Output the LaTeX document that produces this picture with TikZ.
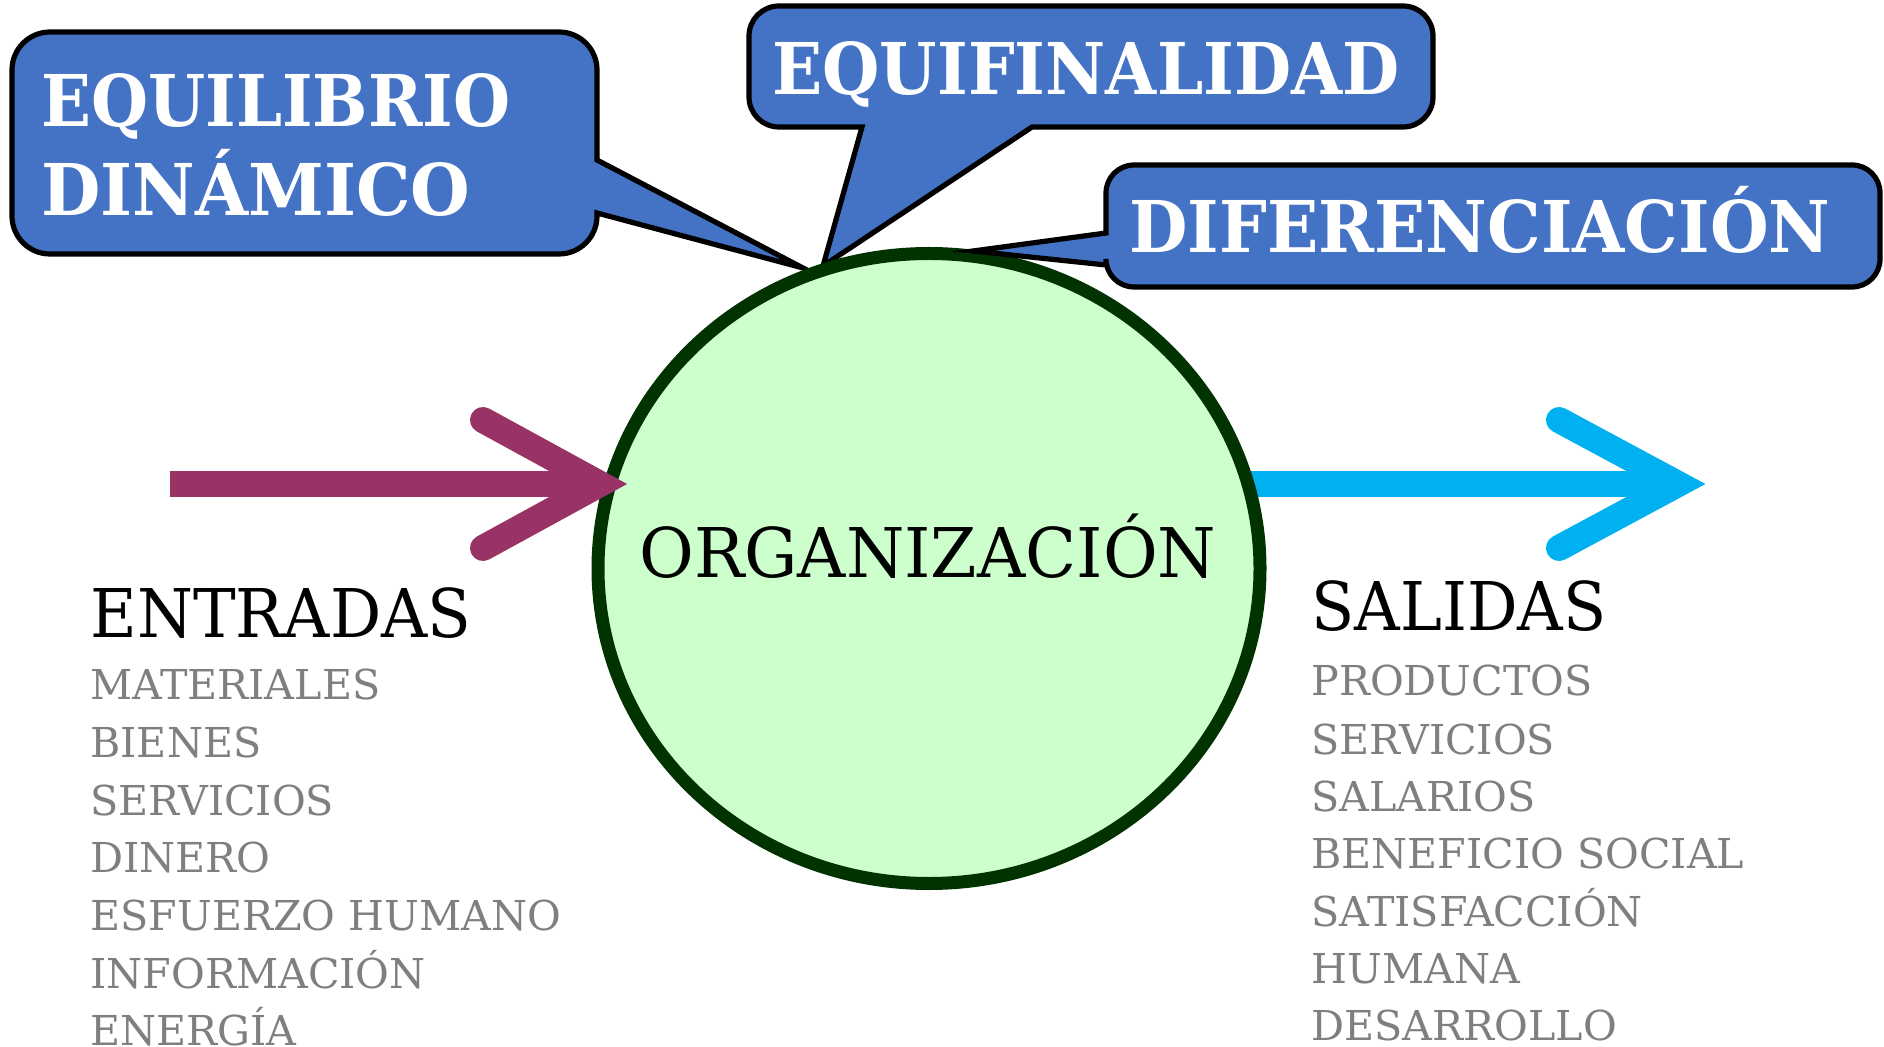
\documentclass[tikz,border=0pt]{standalone}
\usepackage{fontspec}
\setmainfont{DejaVu Serif}
\usetikzlibrary{shapes.geometric}
\definecolor{callblue}{HTML}{4472C4}
\definecolor{orgfill}{HTML}{CCFFCC}
\definecolor{orgline}{HTML}{003300}
\definecolor{inmag}{HTML}{993366}
\definecolor{outcyan}{HTML}{00B0F0}
\definecolor{itemgray}{HTML}{7F7F7F}
\newlength\fitlen
\newcommand\fitw[2]{\settowidth{\fitlen}{#2}\pgfmathsetmacro\fitf{#1/\fitlen}\scalebox{\fitf}[1]{#2}}
\tikzset{
  callout/.style={draw=black, fill=callblue, line width=2.6pt, line join=miter},
  calltext/.style={text=white, inner sep=0pt, font=\fontsize{35.7}{44.5}\selectfont\bfseries},
  shaft/.style={line width=13pt, line cap=butt},
  chevron/.style={line width=13pt, line cap=round, line join=miter},
  headtext/.style={anchor=base west, inner sep=0pt, text=black, font=\fontsize{33.6}{40}\selectfont},
  itemtext/.style={anchor=base west, inner sep=0pt, text=itemgray, font=\fontsize{20.6}{24}\selectfont},
}
\begin{document}
\begin{tikzpicture}[x=0.5pt,y=-0.5pt]
\useasboundingbox (0,0) rectangle (1884,1047);
\fill[white] (0,0) rectangle (1884,1047);

% callout 1
\draw[callout] (50,32) -- (559,32) arc[start angle=270,end angle=360,radius=38]
  -- (597,160) -- (803,268) -- (597,213)
  -- (597,216) arc[start angle=0,end angle=90,radius=38]
  -- (50,254) arc[start angle=90,end angle=180,radius=38]
  -- (12,70) arc[start angle=180,end angle=270,radius=38] -- cycle;
\node[calltext, anchor=north west, align=left] (eq) at (41,73) {\fitw{234.5}{EQUILIBRIO}\\\fitw{214.5}{DINÁMICO}};

% callout 2
\draw[callout] (779,6) -- (1403,6) arc[start angle=270,end angle=360,radius=30]
  -- (1433,97) arc[start angle=0,end angle=90,radius=30]
  -- (1032,127) -- (823,266) -- (862,127)
  -- (779,127) arc[start angle=90,end angle=180,radius=30]
  -- (749,36) arc[start angle=180,end angle=270,radius=30] -- cycle;
\node[calltext, anchor=base west] (ef) at (772,95) {\fitw{313.5}{EQUIFINALIDAD}};

% output arrow (behind circle)
\coordinate (outS) at (1230,484);
\coordinate (outT) at (1678,484);
\coordinate (outA) at (1559,420);
\coordinate (outB) at (1559,548);
\draw[outcyan, shaft] (outS) -- (1660,484);
\draw[outcyan, chevron] (outA) -- (outT) -- (outB);

% circle
\node[ellipse, draw=orgline, fill=orgfill, line width=6.5pt,
      minimum width=331pt, minimum height=315pt, inner sep=0pt] (org) at (929,568.5) {};
\node[anchor=base west, inner sep=0pt, font=\fontsize{34.3}{40}\selectfont] (orgtxt) at (639,577) {\fitw{288.5}{ORGANIZACIÓN}};

% callout 3
\draw[callout] (1134,165) -- (1852,165) arc[start angle=270,end angle=360,radius=28]
  -- (1880,259) arc[start angle=0,end angle=90,radius=28]
  -- (1134,287) arc[start angle=90,end angle=180,radius=28]
  -- (1106,265) -- (973,251) -- (1106,233)
  -- (1106,193) arc[start angle=180,end angle=270,radius=28] -- cycle;
\node[calltext, anchor=base west] (dif) at (1129,253) {\fitw{350.5}{DIFERENCIACIÓN}};

% input arrow
\coordinate (inS) at (170,484);
\coordinate (inT) at (600,484);
\coordinate (inA) at (483,420);
\coordinate (inB) at (483,548);
\draw[inmag, shaft] (inS) -- (585,484);
\draw[inmag, chevron] (inA) -- (inT) -- (inB);

% texts left
\node[headtext] (ent) at (90,637) {\fitw{190.5}{ENTRADAS}};
\node[itemtext] (i1) at (90,699) {MATERIALES};
\node[itemtext] (i2) at (90,757) {BIENES};
\node[itemtext] (i3) at (90,815) {SERVICIOS};
\node[itemtext] (i4) at (90,872) {DINERO};
\node[itemtext] (i5) at (90,930) {ESFUERZO HUMANO};
\node[itemtext] (i6) at (90,988) {INFORMACIÓN};
\node[itemtext] (i7) at (90,1045) {ENERGÍA};

% texts right
\node[headtext] (sal) at (1311,631) {\fitw{147.5}{SALIDAS}};
\node[itemtext] (o1) at (1311,695) {PRODUCTOS};
\node[itemtext] (o2) at (1311,754) {SERVICIOS};
\node[itemtext] (o3) at (1311,811) {SALARIOS};
\node[itemtext] (o4) at (1311,868) {BENEFICIO SOCIAL};
\node[itemtext] (o5) at (1311,926) {SATISFACCIÓN};
\node[itemtext] (o6) at (1311,983) {HUMANA};
\node[itemtext] (o7) at (1311,1040) {DESARROLLO};
\end{tikzpicture}
\end{document}
